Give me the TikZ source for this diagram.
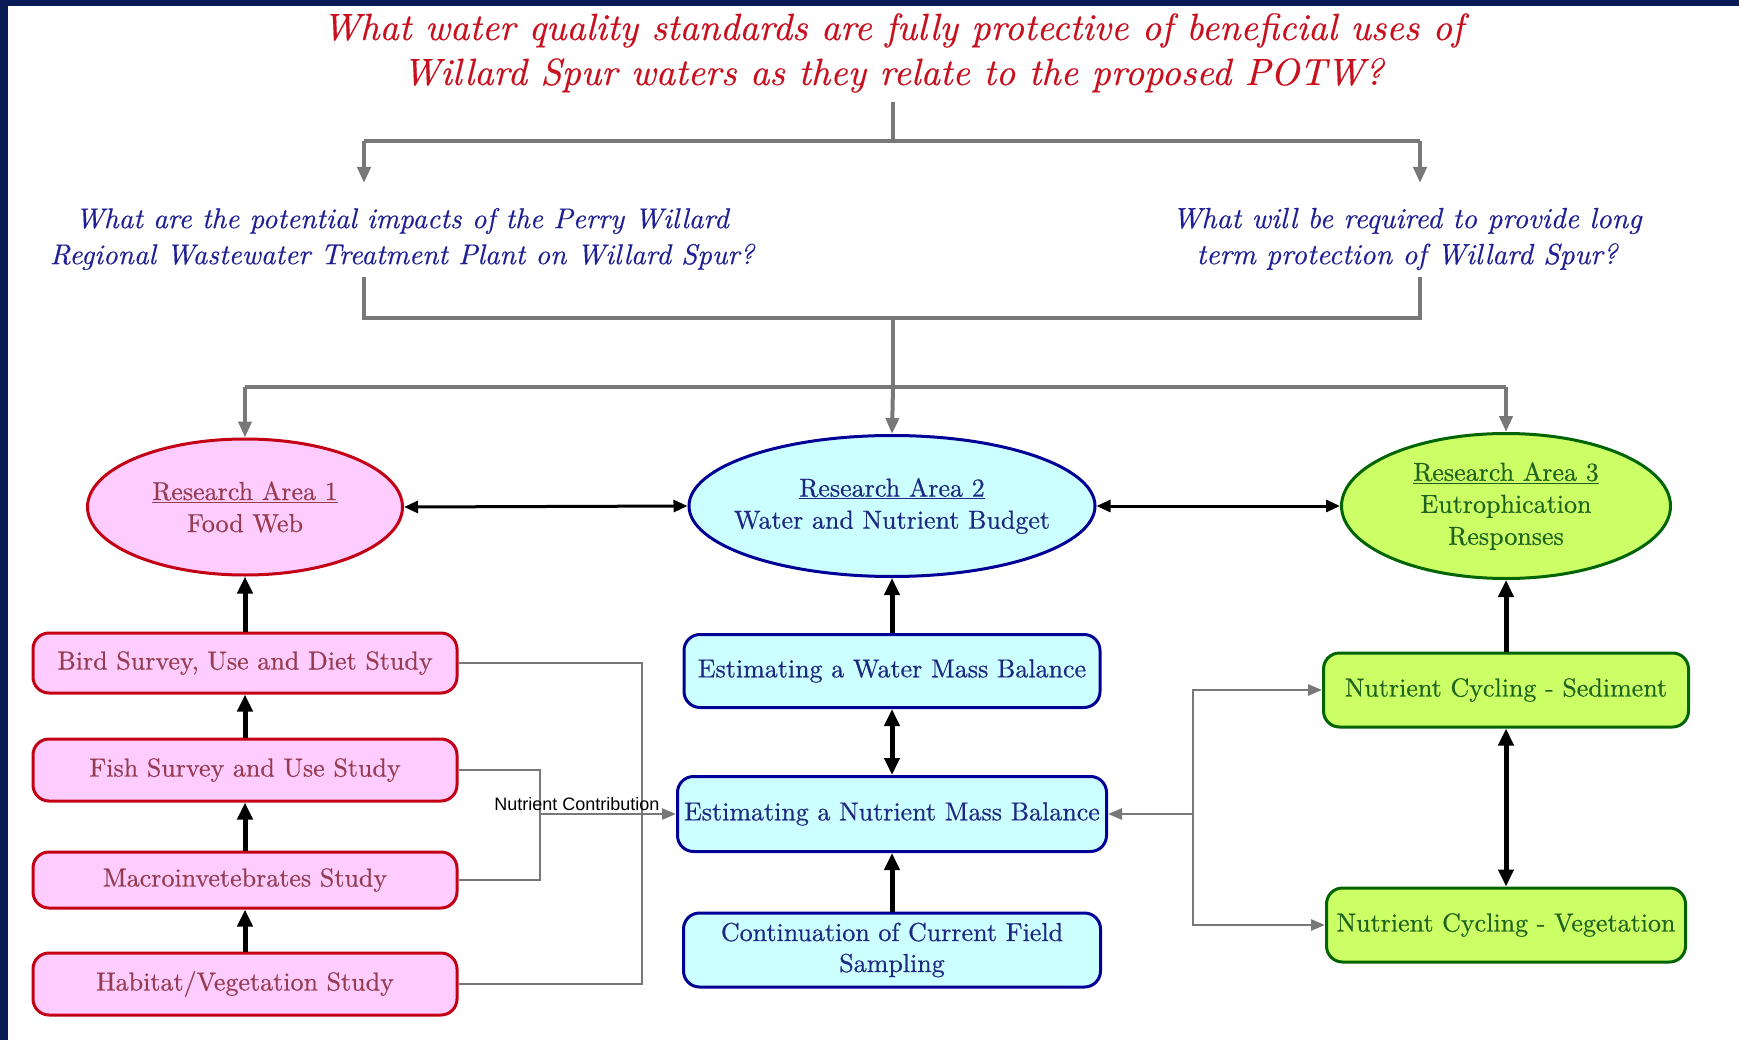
\documentclass[tikz,border=0pt]{standalone}
\usepackage{fontspec}
\newfontfamily\arialfont{Liberation Sans}
\newfontfamily\boxfont{lmroman10-regular.otf}[FakeBold=0.6]
\newfontfamily\qfont{lmroman10-italic.otf}[FakeBold=0.4]
\usetikzlibrary{arrows.meta,shapes.geometric}
\definecolor{navy}{RGB}{10,28,88}
\definecolor{titlered}{RGB}{200,16,30}
\definecolor{qblue}{RGB}{32,32,150}
\definecolor{lgray}{RGB}{120,120,120}
\definecolor{pinkfill}{RGB}{255,204,255}
\definecolor{pinkdraw}{RGB}{195,0,20}
\definecolor{pinktext}{RGB}{150,60,80}
\definecolor{cyanfill}{RGB}{204,255,255}
\definecolor{cyandraw}{RGB}{0,0,150}
\definecolor{cyantext}{RGB}{30,40,130}
\definecolor{greenfill}{RGB}{204,255,102}
\definecolor{greendraw}{RGB}{0,100,0}
\definecolor{greentext}{RGB}{30,100,30}
\begin{document}
\begin{tikzpicture}[x=1pt,y=-1pt,
  boxtxt/.style={font={\boxfont\fontsize{26}{32}\selectfont}, align=center, inner sep=0pt},
  rbox/.style={boxtxt, rectangle, rounded corners=16pt, line width=3pt},
  ell/.style={ellipse, line width=3pt, inner sep=0pt},
  pinkbox/.style={fill=pinkfill, draw=pinkdraw, text=pinktext},
  cyanbox/.style={fill=cyanfill, draw=cyandraw, text=cyantext},
  greenbox/.style={fill=greenfill, draw=greendraw, text=greentext},
  gline/.style={draw=lgray, line width=4pt},
  garrow/.style={draw=lgray, line width=4pt, -{Triangle[length=16pt,width=13pt]}},
  thinline/.style={draw=lgray, line width=2.6pt},
  thinarrow/.style={draw=lgray, line width=2.6pt, -{Triangle[length=14pt,width=11pt]}},
  barrow/.style={draw=black, line width=5pt, -{Triangle[length=17pt,width=15pt]}},
  bdarrow/.style={draw=black, line width=5pt, {Triangle[length=17pt,width=15pt]}-{Triangle[length=17pt,width=15pt]}},
  hdarrow/.style={draw=black, line width=3pt, {Triangle[length=14pt,width=12pt]}-{Triangle[length=14pt,width=12pt]}}
]
\useasboundingbox (0,0) rectangle (1739,1040);
\fill[white] (0,0) rectangle (1739,1040);
\fill[navy] (0,0) rectangle (1739,6);
\fill[navy] (0,0) rectangle (8,1040);

% title and questions
\node[font={\qfont\fontsize{37.8}{45}\selectfont}, text=titlered, align=center, inner sep=0pt] (title) at (893,53)
  {What water quality standards are fully protective of beneficial uses of\\Willard Spur waters as they relate to the proposed POTW?};
\node[font={\qfont\fontsize{28.7}{36}\selectfont}, text=qblue, align=center, inner sep=0pt] (q1) at (402,239)
  {What are the potential impacts of the Perry Willard\\Regional Wastewater Treatment Plant on Willard Spur?};
\node[font={\qfont\fontsize{29.2}{36}\selectfont}, text=qblue, align=center, inner sep=0pt] (q2) at (1407,239)
  {What will be required to provide long\\term protection of Willard Spur?};

% research areas
\node[ell, pinkbox, minimum width=315pt, minimum height=136pt] (e1) at (245,507) {};
\node[boxtxt, text=pinktext] (e1t) at (e1.center) {\underline{Research Area 1}\\Food Web};
\node[ell, cyanbox, minimum width=406pt, minimum height=141pt] (e2) at (892,506) {};
\node[boxtxt, text=cyantext] (e2t) at (e2.center) {\underline{Research Area 2}\\Water and Nutrient Budget};
\node[ell, greenbox, minimum width=329pt, minimum height=145pt] (e3) at (1506,506) {};
\node[boxtxt, text=greentext] (e3t) at (e3.center) {\underline{Research Area 3}\\Eutrophication\\Responses};

% left studies
\node[rbox, pinkbox, minimum width=424pt, minimum height=60pt] (bird) at (245,663) {Bird Survey, Use and Diet Study};
\node[rbox, pinkbox, minimum width=424pt, minimum height=62pt] (fish) at (245,770) {Fish Survey and Use Study};
\node[rbox, pinkbox, minimum width=424pt, minimum height=56pt] (macro) at (245,880) {Macroinvetebrates Study};
\node[rbox, pinkbox, minimum width=424pt, minimum height=62pt] (hab) at (245,984) {Habitat/Vegetation Study};

% middle
\node[rbox, cyanbox, minimum width=416pt, minimum height=73pt] (water) at (892,671) {Estimating a Water Mass Balance};
\node[rbox, cyanbox, minimum width=429pt, minimum height=75pt] (nutr) at (892,814) {Estimating a Nutrient Mass Balance};
\node[rbox, cyanbox, minimum width=417pt, minimum height=74pt, font={\boxfont\fontsize{26}{31}\selectfont}] (cont) at (892,950) {Continuation of Current Field\\Sampling};

% right
\node[rbox, greenbox, minimum width=365pt, minimum height=74pt] (sed) at (1506,690) {Nutrient Cycling - Sediment};
\node[rbox, greenbox, minimum width=359pt, minimum height=74pt] (veg) at (1506,925) {Nutrient Cycling - Vegetation};

% top connectors
\coordinate (t0) at (893,102);
\coordinate (t1) at (893,141);
\coordinate (tl) at (364,141);
\coordinate (tr) at (1420,141);
\coordinate (q1a) at (364,183);
\coordinate (q2a) at (1420,183);
\draw[gline] (t0) -- (t1);
\draw[gline] (tl) -- (tr);
\draw[garrow] (tl) -- (q1a);
\draw[garrow] (tr) -- (q2a);

\coordinate (bl) at (364,277);
\coordinate (br) at (1420,277);
\coordinate (bm) at (893,318);
\coordinate (jm) at (893,387);
\coordinate (jl) at (245,387);
\coordinate (jr) at (1506,387);
\draw[gline] (bl) |- (bm) -| (br);
\draw[gline] (bm) -- (jm);
\draw[gline] (jl) -- (jr);
\draw[garrow] (jl) -- (e1.north);
\draw[garrow] (jm) -- (e2.north);
\draw[garrow] (jr) -- (e3.north);

% between research areas
\draw[hdarrow] (e1.east) -- (e2.west);
\draw[hdarrow] (e2.east) -- (e3.west);

% vertical black arrows
\draw[barrow] (bird.north) -- (e1.south);
\draw[barrow] (fish.north) -- (bird.south);
\draw[barrow] (macro.north) -- (fish.south);
\draw[barrow] (hab.north) -- (macro.south);
\draw[barrow] (water.north) -- (e2.south);
\draw[bdarrow] (water.south) -- (nutr.north);
\draw[barrow] (cont.north) -- (nutr.south);
\draw[barrow] (sed.north) -- (e3.south);
\draw[bdarrow] (sed.south) -- (veg.north);

% nutrient contribution connectors
\coordinate (lx1) at (642,814);
\coordinate (lx2) at (540,814);
\draw[thinline] (bird.east) -| (lx1) |- (hab.east);
\draw[thinline] (fish.east) -| (lx2) |- (macro.east);
\draw[thinarrow] (lx2) -- (nutr.west);
\node[font={\arialfont\fontsize{18}{21}\selectfont}, inner sep=0pt, anchor=base] (nc) at (577,810) {Nutrient Contribution};

% right connectors
\coordinate (rx) at (1193,814);
\draw[thinarrow] (rx) -- (nutr.east);
\draw[thinarrow] (rx) |- (sed.west);
\draw[thinarrow] (rx) |- (veg.west);
\end{tikzpicture}
\end{document}
